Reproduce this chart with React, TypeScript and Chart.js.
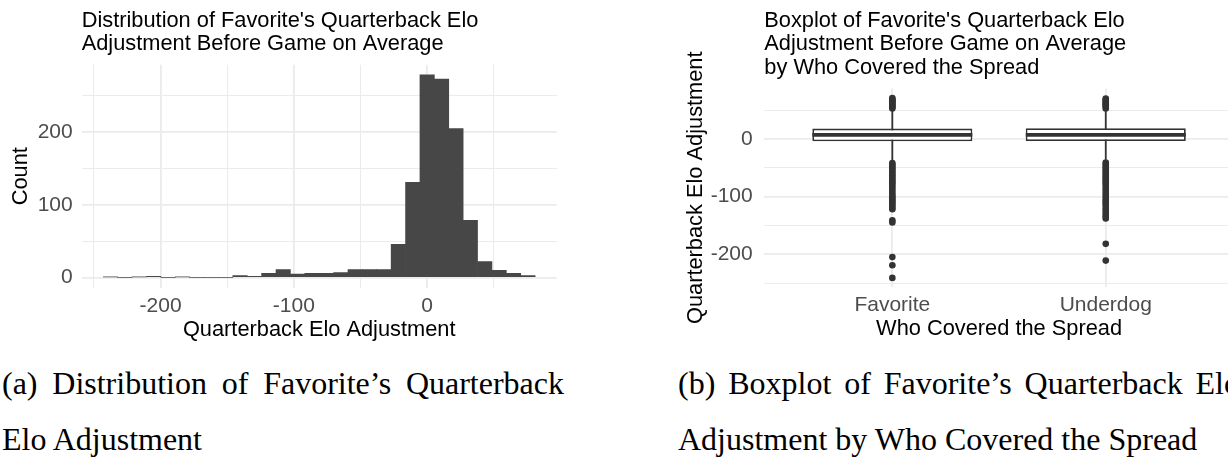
import React, { useEffect, useRef } from 'react';
import { Chart, registerables } from 'chart.js';

Chart.register(...registerables);

// ---------- Histogram data (30 bins, width 10.8) ----------
const BIN_CENTERS = [
  -237.6, -226.8, -216, -205.2, -194.4, -183.6, -172.8, -162, -151.2, -140.4,
  -129.6, -118.8, -108, -97.2, -86.4, -75.6, -64.8, -54, -43.2, -32.4,
  -21.6, -10.8, 0, 10.8, 21.6, 32.4, 43.2, 54, 64.8, 75.6,
];
const BIN_COUNTS = [
  1, 0, 1, 2, 0, 1, 0, 0, 0, 3,
  2, 6, 11, 5, 6, 6, 7, 11, 11, 11,
  46, 131, 279, 273, 205, 79, 22, 10, 6, 3,
];
const HIST_X_TICKS = [-250, -200, -150, -100, -50, 0, 50];
const HIST_Y_TICKS = [0, 50, 100, 150, 200, 250];

// ---------- Boxplot data ----------
const GROUPS = ['Favorite', 'Underdog'];
const WHISKER_LOW = [-37, -36];
const Q1 = [-4, -3.5];
const MEDIAN = [7, 7];
const Q3 = [18, 18.5];
const WHISKER_HIGH = [50, 51];
const OUTLIERS_FAVORITE = [
  53, 55, 57, 59, 61, 63, 65, 67, 69, 71,
  -42, -45, -48, -51, -54, -57, -60, -63, -66, -69, -72, -75, -78, -82, -86,
  -90, -94, -98, -101, -104, -107, -110, -113, -116, -119, -122,
  -141, -145, -205, -219, -241,
];
const OUTLIERS_UNDERDOG = [
  53, 56, 58, 60, 62, 64, 66, 68, 70,
  -41, -44, -47, -50, -53, -56, -59, -62, -65, -68, -71, -74, -77, -80, -84,
  -88, -92, -96, -100, -104, -107, -110, -113, -116, -120, -124, -128, -132,
  -135, -138, -182, -211,
];
const BOX_Y_TICKS = [-250, -200, -150, -100, -50, 0, 50];

const SANS = '"Liberation Sans", Arial, Helvetica, sans-serif';
const SERIF = '"Liberation Serif", "Times New Roman", serif';
const GRID = '#ebebeb';
const INK = '#333333';
const BOX_WIDTH = 0.75;

const gridWidth = (ctx: any) => (ctx.tick && ctx.tick.value % 100 === 0 ? 1.8 : 1);
const majorLabel = (v: any) => (Number(v) % 100 === 0 ? String(v) : '');

function histConfig(): any {
  return {
    type: 'bar',
    data: {
      datasets: [
        {
          data: BIN_CENTERS.map((c, i) => ({ x: c, y: BIN_COUNTS[i] })),
          backgroundColor: '#474747',
          borderWidth: 0,
          barPercentage: 1,
          categoryPercentage: 1,
        },
      ],
    },
    options: {
      responsive: false,
      animation: false,
      layout: { padding: { left: 0, right: 13.3, top: 0, bottom: 2.2 } },
      plugins: {
        legend: { display: false },
        tooltip: { enabled: false },
        title: {
          display: true,
          text: ["Distribution of Favorite's Quarterback Elo", 'Adjustment Before Game on Average'],
          align: 'start',
          fullSize: false,
          color: '#000',
          font: { family: SANS, size: 21.8, weight: 'normal', lineHeight: 23.5 / 21.8 },
          padding: { top: 9, bottom: 8.7 },
        },
      },
      scales: {
        x: {
          type: 'linear',
          offset: false,
          min: -259.2,
          max: 97.2,
          afterBuildTicks: (s: any) => {
            s.ticks = HIST_X_TICKS.map((v) => ({ value: v }));
          },
          afterFit: (s: any) => {
            s.height = 60;
          },
          grid: { color: GRID, lineWidth: gridWidth, drawTicks: false, offset: false },
          border: { display: false },
          ticks: {
            autoSkip: false,
            maxRotation: 0,
            padding: 6.3,
            color: '#4d4d4d',
            font: { family: SANS, size: 21 },
            callback: majorLabel,
          },
          title: {
            display: true,
            text: 'Quarterback Elo Adjustment',
            color: '#000',
            font: { family: SANS, size: 21.8, lineHeight: 24 / 21.8 },
            padding: { top: 0, bottom: 5.8 },
          },
        },
        y: {
          type: 'linear',
          min: -13.95,
          max: 292.95,
          afterBuildTicks: (s: any) => {
            s.ticks = HIST_Y_TICKS.map((v) => ({ value: v }));
          },
          afterFit: (s: any) => {
            s.width = 81.7;
          },
          grid: { color: GRID, lineWidth: gridWidth, drawTicks: false },
          border: { display: false },
          ticks: {
            autoSkip: false,
            padding: 9,
            color: '#4d4d4d',
            font: { family: SANS, size: 21 },
            callback: majorLabel,
          },
          title: {
            display: true,
            text: 'Count',
            color: '#000',
            font: { family: SANS, size: 21.8, lineHeight: 24 / 21.8 },
            padding: { top: 8.5, bottom: 0 },
          },
        },
      },
    },
  };
}

function boxConfig(): any {
  const half = BOX_WIDTH / 2;
  const whiskers: any[] = [];
  const medians: any[] = [];
  GROUPS.forEach((_, i) => {
    if (i > 0) {
      whiskers.push({ x: i - 0.5, y: null });
      medians.push({ x: i - 0.5, y: null });
    }
    whiskers.push({ x: i, y: WHISKER_LOW[i] }, { x: i, y: WHISKER_HIGH[i] });
    medians.push({ x: i - half, y: MEDIAN[i] }, { x: i + half, y: MEDIAN[i] });
  });
  const outliers = [
    ...OUTLIERS_FAVORITE.map((v) => ({ x: 0, y: v })),
    ...OUTLIERS_UNDERDOG.map((v) => ({ x: 1, y: v })),
  ];
  return {
    type: 'bar',
    data: {
      datasets: [
        {
          type: 'line',
          data: whiskers,
          borderColor: INK,
          borderWidth: 1.8,
          pointRadius: 0,
          spanGaps: false,
          order: 4,
        },
        {
          type: 'bar',
          data: GROUPS.map((_, i) => ({ x: i, y: [Q1[i], Q3[i]] })),
          backgroundColor: '#ffffff',
          borderColor: INK,
          borderWidth: 1.8,
          borderSkipped: false,
          barPercentage: BOX_WIDTH,
          categoryPercentage: 1,
          order: 3,
        },
        {
          type: 'line',
          data: medians,
          borderColor: INK,
          borderWidth: 3.6,
          borderCapStyle: 'butt',
          pointRadius: 0,
          spanGaps: false,
          order: 2,
        },
        {
          type: 'scatter',
          data: outliers,
          backgroundColor: INK,
          pointRadius: 3.3,
          pointBorderWidth: 0,
          borderWidth: 0,
          order: 1,
        },
      ],
    },
    options: {
      responsive: false,
      animation: false,
      layout: { padding: { left: 0, right: 16.2, top: 0, bottom: 2.9 } },
      plugins: {
        legend: { display: false },
        tooltip: { enabled: false },
        title: {
          display: true,
          text: [
            "Boxplot of Favorite's Quarterback Elo",
            'Adjustment Before Game on Average',
            'by Who Covered the Spread',
          ],
          align: 'start',
          fullSize: false,
          color: '#000',
          font: { family: SANS, size: 21.8, weight: 'normal', lineHeight: 23.5 / 21.8 },
          padding: { top: 9, bottom: 8.9 },
        },
      },
      scales: {
        x: {
          type: 'linear',
          offset: false,
          min: -0.6,
          max: 1.6,
          afterBuildTicks: (s: any) => {
            s.ticks = GROUPS.map((_, i) => ({ value: i }));
          },
          afterFit: (s: any) => {
            s.height = 60;
          },
          grid: { color: GRID, lineWidth: 1.8, drawTicks: false, offset: false },
          border: { display: false },
          ticks: {
            autoSkip: false,
            maxRotation: 0,
            padding: 5.3,
            color: '#4d4d4d',
            font: { family: SANS, size: 21 },
            callback: (v: any) => GROUPS[Number(v)] ?? '',
          },
          title: {
            display: true,
            text: 'Who Covered the Spread',
            color: '#000',
            font: { family: SANS, size: 21.8, lineHeight: 24 / 21.8 },
            padding: { top: 0, bottom: 6.1 },
          },
        },
        y: {
          type: 'linear',
          min: -257,
          max: 87.7,
          afterBuildTicks: (s: any) => {
            s.ticks = BOX_Y_TICKS.map((v) => ({ value: v }));
          },
          afterFit: (s: any) => {
            s.width = 104.3;
          },
          grid: { color: GRID, lineWidth: gridWidth, drawTicks: false },
          border: { display: false },
          ticks: {
            autoSkip: false,
            padding: 11.6,
            color: '#4d4d4d',
            font: { family: SANS, size: 21 },
            callback: majorLabel,
          },
          title: {
            display: true,
            text: 'Quarterback Elo Adjustment',
            color: '#000',
            font: { family: SANS, size: 21.8, lineHeight: 24 / 21.8 },
            padding: { top: 23.5, bottom: 0 },
          },
        },
      },
    },
  };
}

const captionStyle: React.CSSProperties = {
  position: 'absolute',
  top: 355,
  width: 562,
  fontFamily: SERIF,
  fontSize: 32,
  lineHeight: '56px',
  color: '#000',
};
const justified: React.CSSProperties = {
  textAlign: 'justify',
  textAlignLast: 'justify' as any,
  whiteSpace: 'normal',
};

export default function App() {
  const leftRef = useRef<HTMLCanvasElement>(null);
  const rightRef = useRef<HTMLCanvasElement>(null);

  useEffect(() => {
    const c1 = new Chart(leftRef.current as HTMLCanvasElement, histConfig());
    const c2 = new Chart(rightRef.current as HTMLCanvasElement, boxConfig());
    return () => {
      c1.destroy();
      c2.destroy();
    };
  }, []);

  return (
    <div
      style={{
        position: 'fixed',
        left: 0,
        top: 0,
        width: 1228,
        height: 465,
        overflow: 'hidden',
        background: '#ffffff',
      }}
    >
      <canvas
        ref={leftRef}
        width={570}
        height={350}
        style={{ position: 'absolute', left: 0, top: 0, width: 570, height: 350 }}
      />
      <canvas
        ref={rightRef}
        width={590}
        height={350}
        style={{ position: 'absolute', left: 660, top: 0, width: 590, height: 350 }}
      />
      <div style={{ ...captionStyle, left: 2 }}>
        <div style={justified}>(a) Distribution of Favorite’s Quarterback</div>
        <div>Elo Adjustment</div>
      </div>
      <div style={{ ...captionStyle, left: 678 }}>
        <div style={justified}>(b) Boxplot of Favorite’s Quarterback Elo</div>
        <div>Adjustment by Who Covered the Spread</div>
      </div>
    </div>
  );
}
